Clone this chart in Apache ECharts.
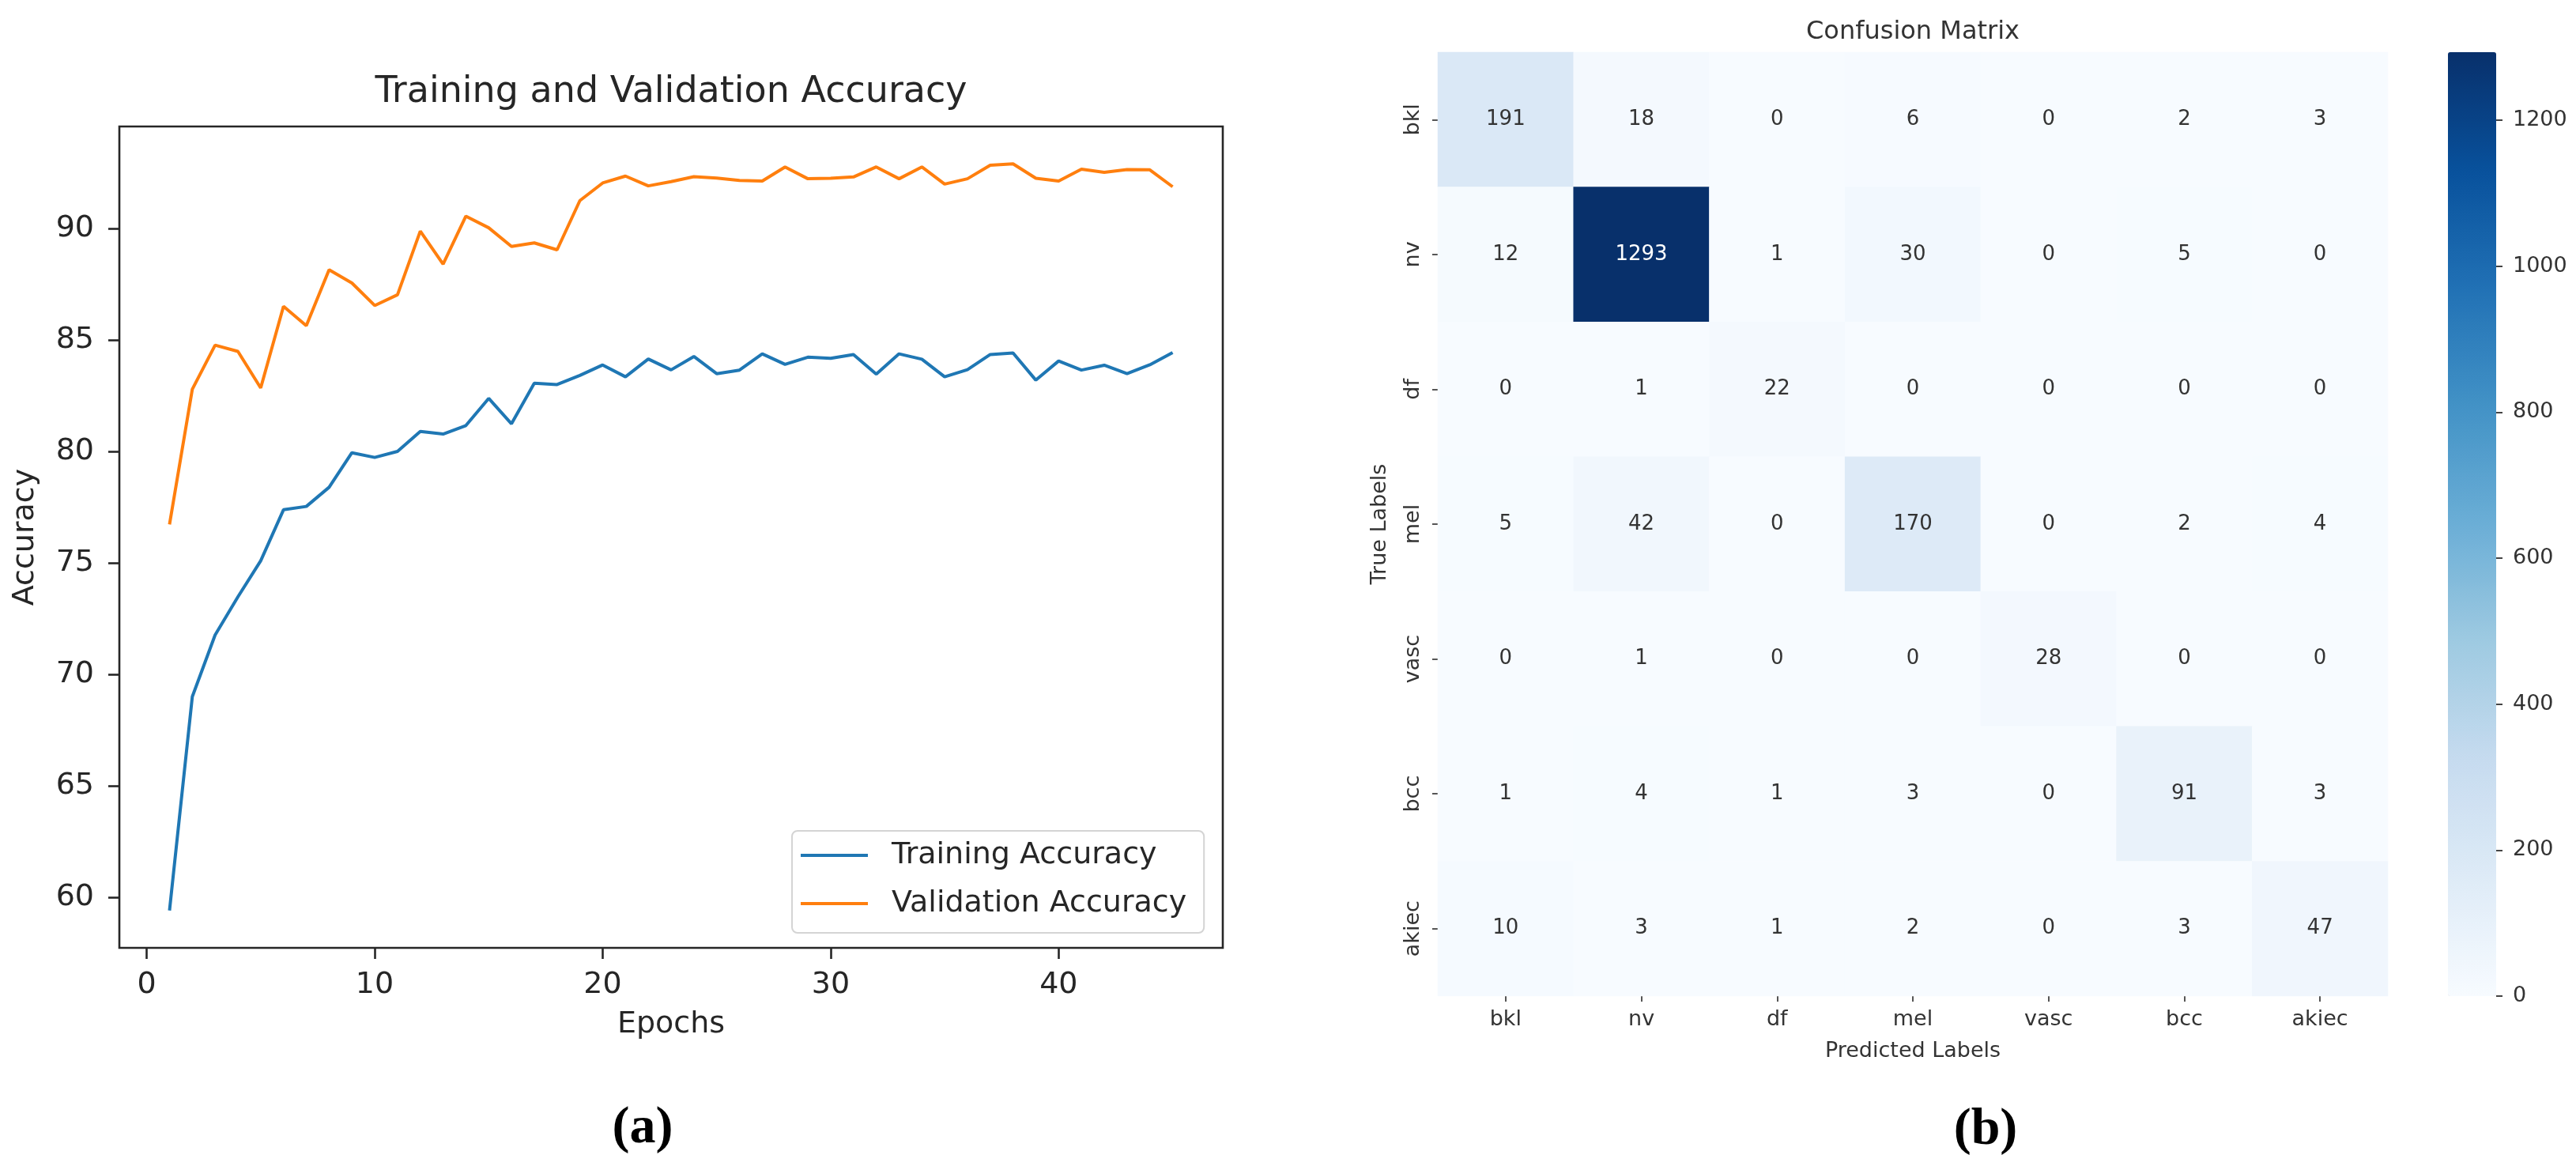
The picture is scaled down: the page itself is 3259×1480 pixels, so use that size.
<!DOCTYPE html>
<html>
<head>
<meta charset="utf-8">
<title>Training accuracy and confusion matrix</title>
<script src="https://cdn.jsdelivr.net/npm/echarts@6.0.0/dist/echarts.min.js"></script>
<style>
  html, body { margin: 0; padding: 0; background: #ffffff; }
  #main { width: 3259px; height: 1480px; }
</style>
</head>
<body>
<div id="main"></div>
<script>
// ---- panel (a): accuracy per epoch ----
var epochs = [1, 2, 3, 4, 5, 6, 7, 8, 9, 10, 11, 12, 13, 14, 15, 16, 17, 18, 19, 20, 21, 22, 23,
    24, 25, 26, 27, 28, 29, 30, 31, 32, 33, 34, 35, 36, 37, 38, 39, 40, 41, 42, 43, 44, 45];
var trainingAcc = [59.40, 69.00, 71.77, 73.48, 75.10, 77.39, 77.54, 78.40, 79.95, 79.74, 80.01, 80.91,
    80.79, 81.17, 82.39, 81.25, 83.07, 83.01, 83.42, 83.89, 83.36, 84.16, 83.67, 84.27, 83.50, 83.66,
    84.39, 83.92, 84.24, 84.19, 84.36, 83.48, 84.39, 84.15, 83.36, 83.68, 84.36, 84.43, 83.21, 84.07,
    83.66, 83.88, 83.50, 83.90, 84.45];
var validationAcc = [76.73, 82.80, 84.78, 84.50, 82.86, 86.52, 85.65, 88.16, 87.57, 86.56, 87.04, 89.90,
    88.42, 90.57, 90.05, 89.21, 89.37, 89.06, 91.27, 92.06, 92.37, 91.93, 92.12, 92.34, 92.28, 92.17,
    92.15, 92.78, 92.25, 92.27, 92.33, 92.78, 92.25, 92.78, 92.01, 92.25, 92.86, 92.92, 92.27, 92.15,
    92.68, 92.54, 92.66, 92.65, 91.89];
var epochTicks = [0, 10, 20, 30, 40];
var accuracyTicks = [60, 65, 70, 75, 80, 85, 90];

// ---- panel (b): confusion matrix ----
var classLabels = ['bkl', 'nv', 'df', 'mel', 'vasc', 'bcc', 'akiec'];
var confusion = [
    [191, 18, 0, 6, 0, 2, 3],
    [12, 1293, 1, 30, 0, 5, 0],
    [0, 1, 22, 0, 0, 0, 0],
    [5, 42, 0, 170, 0, 2, 4],
    [0, 1, 0, 0, 28, 0, 0],
    [1, 4, 1, 3, 0, 91, 3],
    [10, 3, 1, 2, 0, 3, 47]
];
var colorbarTicks = [0, 200, 400, 600, 800, 1000, 1200];
var blues = ['#f7fbff', '#deebf7', '#c6dbef', '#9ecae1', '#6baed6', '#4292c6', '#2171b5', '#08519c', '#08306b'];

var FONT = 'DejaVu Sans';
var INK = '#262626';

function zip(xs, ys) {
    var out = [];
    for (var i = 0; i < xs.length; i++) out.push([xs[i], ys[i]]);
    return out;
}

// matplotlib style 5% margins around the data
var allAcc = trainingAcc.concat(validationAcc);
var accMin = Math.min.apply(null, allAcc), accMax = Math.max.apply(null, allAcc);
var accPad = (accMax - accMin) * 0.05;
var epPad = (epochs[epochs.length - 1] - epochs[0]) * 0.05;

var cmMax = 0;
confusion.forEach(function (row) {
    row.forEach(function (v) {
        if (v > cmMax) cmMax = v;
    });
});
var cells = [];
confusion.forEach(function (row, i) {
    row.forEach(function (v, j) {
        cells.push({
            value: [j, i, v],
            label: { color: v > cmMax * 0.6 ? '#ffffff' : '#333333' }
        });
    });
});

var chart = echarts.init(document.getElementById('main'), null, { renderer: 'canvas' });

function panelCaption(letter, x, y) {
    return {
        text: '{p|(}{b|' + letter + '}{p|)}',
        left: x, top: y, padding: 0,
        textAlign: 'center', textVerticalAlign: 'middle',
        textStyle: {
            rich: {
                p: { fontFamily: 'Liberation Serif', fontSize: 66, color: '#000' },
                b: { fontFamily: 'Liberation Serif', fontSize: 66, fontWeight: 'bold', color: '#000' }
            }
        }
    };
}

var option = {
    backgroundColor: '#ffffff',
    animation: false,
    title: [
        {
            text: 'Training and Validation Accuracy',
            left: 849, top: 117, padding: 0,
            textAlign: 'center', textVerticalAlign: 'middle',
            textStyle: { fontFamily: FONT, fontSize: 46, fontWeight: 'normal', color: INK }
        },
        {
            text: 'Confusion Matrix',
            left: 2420, top: 41, padding: 0,
            textAlign: 'center', textVerticalAlign: 'middle',
            textStyle: { fontFamily: FONT, fontSize: 32, fontWeight: 'normal', color: '#333' }
        },
        panelCaption('a', 813, 1428),
        panelCaption('b', 2512, 1430)
    ],
    legend: {
        data: ['Training Accuracy', 'Validation Accuracy'],
        orient: 'vertical',
        left: 1002, top: 1051,
        padding: [11, 22, 17, 11],
        itemGap: 21,
        itemWidth: 85, itemHeight: 4,
        icon: 'rect',
        backgroundColor: 'rgba(255,255,255,0.8)',
        borderColor: '#d4d4d4', borderWidth: 2, borderRadius: 7,
        textStyle: { fontFamily: FONT, fontSize: 38, color: INK, lineHeight: 40, padding: [0, 0, 0, 25] }
    },
    grid: [
        { left: 151, top: 160, width: 1396, height: 1039, show: true, borderColor: INK, borderWidth: 2.6, backgroundColor: 'transparent' },
        { left: 1819, top: 66, width: 1202, height: 1194 },
        { left: 3097, top: 66, width: 61, height: 1194 }
    ],
    xAxis: [
        {
            gridIndex: 0, type: 'value',
            min: epochs[0] - epPad, max: epochs[epochs.length - 1] + epPad,
            axisLine: { show: false, onZero: false },
            splitLine: { show: false },
            axisTick: { show: true, customValues: epochTicks, length: 14, lineStyle: { color: INK, width: 2.6 } },
            axisLabel: { customValues: epochTicks, fontFamily: FONT, fontSize: 38, color: INK, margin: 28 },
            name: 'Epochs', nameLocation: 'middle', nameGap: 78,
            nameTextStyle: { fontFamily: FONT, fontSize: 38, color: INK }
        },
        {
            gridIndex: 1, type: 'category', data: classLabels,
            axisLine: { show: false, onZero: false },
            splitLine: { show: false },
            axisTick: { show: true, alignWithLabel: true, length: 7, lineStyle: { color: '#555', width: 2 } },
            axisLabel: { fontFamily: FONT, fontSize: 27, color: '#333', margin: 16 },
            name: 'Predicted Labels', nameLocation: 'middle', nameGap: 56,
            nameTextStyle: { fontFamily: FONT, fontSize: 27, color: '#333' }
        },
        { gridIndex: 2, type: 'value', min: 0, max: 1, show: false }
    ],
    yAxis: [
        {
            gridIndex: 0, type: 'value',
            min: accMin - accPad, max: accMax + accPad,
            axisLine: { show: false, onZero: false },
            splitLine: { show: false },
            axisTick: { show: true, customValues: accuracyTicks, length: 14, lineStyle: { color: INK, width: 2.6 } },
            axisLabel: { customValues: accuracyTicks, fontFamily: FONT, fontSize: 38, color: INK, margin: 32 },
            name: 'Accuracy', nameLocation: 'middle', nameGap: 100,
            nameTextStyle: { fontFamily: FONT, fontSize: 38, color: INK }
        },
        {
            gridIndex: 1, type: 'category', data: classLabels, inverse: true,
            axisLine: { show: false, onZero: false },
            splitLine: { show: false },
            axisTick: { show: true, alignWithLabel: true, length: 7, lineStyle: { color: '#555', width: 2 } },
            axisLabel: { fontFamily: FONT, fontSize: 27, color: '#333', margin: 18, rotate: 90 },
            name: 'True Labels', nameLocation: 'middle', nameGap: 60,
            nameTextStyle: { fontFamily: FONT, fontSize: 27, color: '#333' }
        },
        {
            // colorbar scale
            gridIndex: 2, type: 'value', position: 'right',
            min: 0, max: cmMax,
            axisLine: { show: false, onZero: false },
            splitLine: { show: false },
            axisTick: { show: true, customValues: colorbarTicks, length: 8, lineStyle: { color: '#444', width: 2 } },
            axisLabel: {
                customValues: colorbarTicks, fontFamily: FONT, fontSize: 27, color: '#333', margin: 21,
                formatter: function (v) { return String(v); }
            }
        }
    ],
    visualMap: {
        type: 'continuous',
        seriesIndex: 2,
        min: 0, max: cmMax,
        calculable: false,
        orient: 'vertical',
        left: 3097, top: 66,
        padding: 0,
        itemWidth: 61, itemHeight: 1194,
        text: null,
        inRange: { color: blues }
    },
    series: [
        {
            name: 'Training Accuracy', type: 'line',
            xAxisIndex: 0, yAxisIndex: 0,
            data: zip(epochs, trainingAcc),
            symbol: 'none',
            color: '#1f77b4',
            lineStyle: { width: 4, color: '#1f77b4' }
        },
        {
            name: 'Validation Accuracy', type: 'line',
            xAxisIndex: 0, yAxisIndex: 0,
            data: zip(epochs, validationAcc),
            symbol: 'none',
            color: '#ff7f0e',
            lineStyle: { width: 4, color: '#ff7f0e' }
        },
        {
            name: 'Confusion Matrix', type: 'heatmap',
            xAxisIndex: 1, yAxisIndex: 1,
            data: cells,
            label: { show: true, fontFamily: FONT, fontSize: 26 },
            emphasis: { disabled: true }
        }
    ]
};

chart.setOption(option);
</script>
</body>
</html>
